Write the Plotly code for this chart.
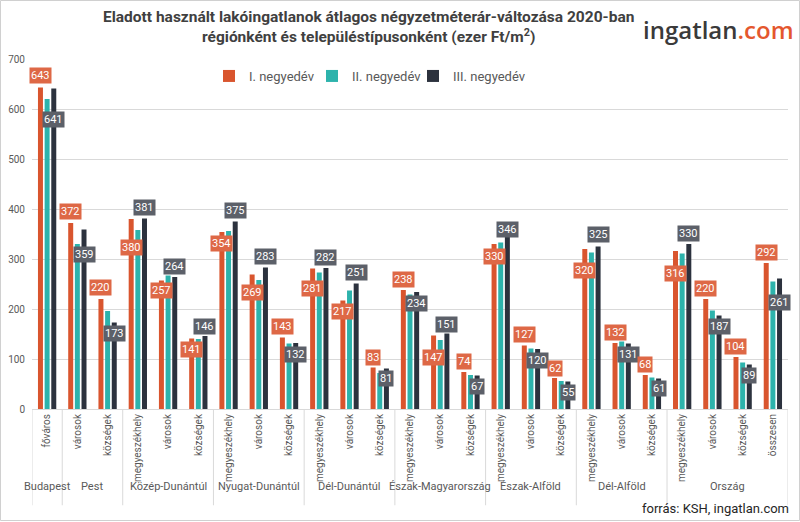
import plotly.graph_objects as go

regions = ["Budapest", "Pest", "Közép-Dunántúl", "Nyugat-Dunántúl", "Dél-Dunántúl",
           "Észak-Magyarország", "Észak-Alföld", "Dél-Alföld", "Ország"]
region_sizes = [1, 2, 3, 3, 3, 3, 3, 3, 4]
subcats = ["főváros", "városok", "községek",
           "megyeszékhely", "városok", "községek",
           "megyeszékhely", "városok", "községek",
           "megyeszékhely", "városok", "községek",
           "megyeszékhely", "városok", "községek",
           "megyeszékhely", "városok", "községek",
           "megyeszékhely", "városok", "községek",
           "megyeszékhely", "városok", "községek", "összesen"]

q1 = [643, 372, 220, 380, 257, 141, 354, 269, 143, 281, 217, 83, 238, 147, 74,
      330, 127, 62, 320, 132, 68, 316, 220, 104, 292]
q2 = [620, 330, 196, 358, 267, 140, 356, 258, 131, 273, 237, 72, 229, 138, 68,
      333, 121, 56, 313, 135, 63, 311, 197, 93, 255]
q3 = [641, 359, 173, 381, 264, 146, 375, 283, 132, 282, 251, 81, 234, 151, 67,
      346, 120, 55, 325, 131, 61, 330, 187, 89, 261]

series_names = ["I. negyedév", "II. negyedév", "III. negyedév"]
colors = ["#D9552E", "#2DB3AC", "#2C323E"]
label_bg = ["#DE6846", None, "#5C6069"]

# label vertical offsets (px) relative to bar top – styling only
q1_shift = [12, 12, 12, -28, -10, -11, -11, -18, 11, -20, -11, 10, 11, -22, 11,
            -12, 11, 10, -21, 11, 11, -22, 11, 11, 11]
q3_shift = [-31, -25, -11, 11, 11, 10, 11, 11, -11, 11, 11, -10, -11, 9, -11,
            7, -11, -11, 12, -11, -10, 11, -11, -11, -24]

x = list(range(len(subcats)))
bargap = 0.34
slot = (1 - bargap) / 3

legend_ids = ["legend", "legend2", "legend3"]
legend_left_px = [209, 312, 413]

fig = go.Figure()
for name, vals, col, lg in zip(series_names, [q1, q2, q3], colors, legend_ids):
    fig.add_trace(go.Bar(x=x, y=vals, name=name, marker_color=col,
                         marker_line_width=0, legend=lg))

annotations = []
for i in x:
    for vals, shifts, off, bg in [(q1, q1_shift, -slot, label_bg[0]),
                                  (q3, q3_shift, slot, label_bg[2])]:
        annotations.append(dict(
            x=i + off, y=vals[i], xref="x", yref="y", text=str(vals[i]),
            showarrow=False, yshift=shifts[i], yanchor="middle", xanchor="center",
            bgcolor=bg, font=dict(color="white", size=11, family="Roboto"),
            borderpad=1))

# region labels and dividers
shapes = []
pos = -0.5
for r, n in zip(regions, region_sizes):
    annotations.append(dict(x=pos + n / 2, y=-0.246, xref="x", yref="paper",
                            text=r, showarrow=False,
                            font=dict(size=11, color="#595959", family="Roboto")))
    shapes.append(dict(type="line", xref="x", yref="paper", x0=pos, x1=pos,
                       y0=0, y1=-0.275, line=dict(color="#D9D9D9", width=1)))
    pos += n
shapes.append(dict(type="line", xref="x", yref="paper", x0=pos, x1=pos,
                   y0=0, y1=-0.275, line=dict(color="#D9D9D9", width=1)))

# outer border
shapes.append(dict(type="rect", xref="paper", yref="paper",
                   x0=-31.5 / 756, x1=767.5 / 756, y0=-111.5 / 350, y1=408.5 / 350,
                   line=dict(color="#D0D0D0", width=1)))

# title, logo, source
annotations.append(dict(
    x=(368 - 32) / 756, y=(409 - 27) / 350, xref="paper", yref="paper",
    showarrow=False, xanchor="center", yanchor="middle", align="center",
    text="<b>Eladott használt lakóingatlanok átlagos négyzetméterár-változása 2020-ban<br>"
         "régiónként és településtípusonként (ezer Ft/m<sup>2</sup>)</b>",
    font=dict(size=15.5, color="#404040", family="Roboto")))
annotations.append(dict(
    x=(718 - 32) / 756, y=(409 - 29) / 350, xref="paper", yref="paper",
    showarrow=False, xanchor="center", yanchor="middle",
    text="<span style='color:#3A3A3A'>ingatlan</span><span style='color:#E4572E'>.com</span>",
    font=dict(size=24, family="Open Sans", color="#3A3A3A", weight=600)))
annotations.append(dict(
    x=(791 - 32) / 756, y=(409 - 508) / 350, xref="paper", yref="paper",
    showarrow=False, xanchor="right", yanchor="middle",
    text="forrás: KSH, ingatlan.com",
    font=dict(size=13, family="Roboto", color="#262626")))

legend_common = dict(orientation="h", y=(409 - 76) / 350, xanchor="left",
                     yanchor="middle", font=dict(size=13, color="#595959"),
                     bgcolor="rgba(0,0,0,0)", itemwidth=30)

fig.update_layout(
    width=800, height=522,
    margin=dict(l=32, r=12, t=59, b=113),
    paper_bgcolor="white", plot_bgcolor="white",
    barmode="group", bargap=bargap, bargroupgap=0.25,
    font=dict(family="Roboto", color="#595959"),
    showlegend=True,
    annotations=annotations, shapes=shapes,
)
for lg, lpx in zip(legend_ids, legend_left_px):
    fig.update_layout({lg: dict(legend_common, x=(lpx - 32) / 756)})

fig.update_xaxes(range=[-0.5, 24.5], tickmode="array", tickvals=x, ticktext=subcats,
                 tickangle=-90, tickfont=dict(size=10, color="#595959"),
                 showgrid=False, showline=True, linecolor="#D9D9D9", ticks="",
                 zeroline=False, automargin=False)
fig.update_yaxes(range=[0, 700], dtick=100, showgrid=True, gridcolor="#D9D9D9",
                 tickfont=dict(size=10, color="#595959"), zeroline=False,
                 showline=False, ticklabelstandoff=6, automargin=False)

fig.write_html("out.html", config={"displayModeBar": False},
               post_script="document.body.style.margin='0';")
